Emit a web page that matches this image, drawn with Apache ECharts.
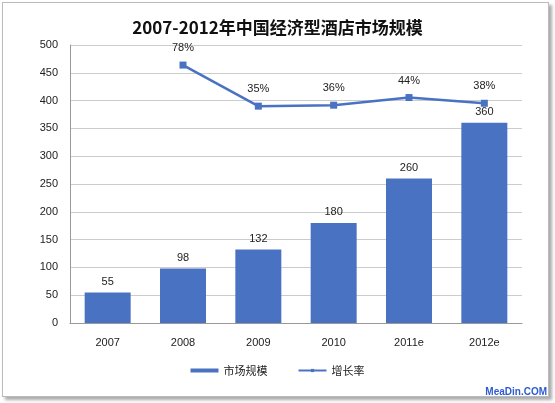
<!DOCTYPE html>
<html><head><meta charset="utf-8">
<script src="https://cdn.jsdelivr.net/npm/echarts@6/dist/echarts.min.js"></script>
<style>html,body{margin:0;padding:0;background:#fff}#c{width:555px;height:403px}
#f{position:absolute;left:2px;top:2px;width:545px;height:393px;border:1px solid #bbb;box-shadow:3px 3px 3px #aaa;pointer-events:none}</style>
</head><body><div id="c"></div><div id="f"></div>
<script>
const categories=['2007','2008','2009','2010','2011e','2012e'];
const marketSize=[55,98,132,180,260,360];
const growthRate=[null,78,35,36,44,38];
const yTicks=[0,50,100,150,200,250,300,350,400,450,500];
const ch=echarts.init(document.getElementById('c'));
ch.setOption({
 animation:false,
 title:{text:'2007-2012年中国经济型酒店市场规模',left:'center',top:14,textStyle:{fontSize:17,fontWeight:'bold',color:'#111',fontFamily:'Noto Sans CJK SC'}},
 grid:{left:70,right:33,top:45,bottom:80},
 legend:{bottom:22,itemGap:30,textStyle:{fontSize:11,color:'#222',fontFamily:'Noto Sans CJK SC'},data:[{name:'市场规模',icon:'rect'},{name:'增长率'}],itemWidth:28,itemHeight:4},
 xAxis:{type:'category',data:categories,axisTick:{show:false},axisLine:{lineStyle:{color:'#999'}},axisLabel:{color:'#222',fontSize:11,margin:14}},
 yAxis:[{type:'value',min:0,max:500,interval:50,axisLine:{show:true,lineStyle:{color:'#999'}},splitLine:{lineStyle:{color:'#ccc'}},axisLabel:{color:'#222',fontSize:11,margin:12}},
  {type:'value',min:-192,max:99,show:false,splitLine:{show:false}}],
 series:[
  {name:'市场规模',type:'bar',data:marketSize,barWidth:46,itemStyle:{color:'#4a72c2'},label:{show:true,position:'top',color:'#222',fontSize:11}},
  {name:'增长率',type:'line',yAxisIndex:1,data:growthRate,symbol:'rect',symbolSize:7,lineStyle:{color:'#4a72c2',width:2.5},itemStyle:{color:'#4a72c2'},label:{show:true,position:'top',distance:8,color:'#222',fontSize:11,formatter:p=>p.value+'%'}}
 ],
 graphic:[{type:'text',right:8,bottom:6,style:{text:'MeaDin.COM',fill:'#2f5bd0',font:'bold 10px sans-serif'}}]
});
</script></body></html>
